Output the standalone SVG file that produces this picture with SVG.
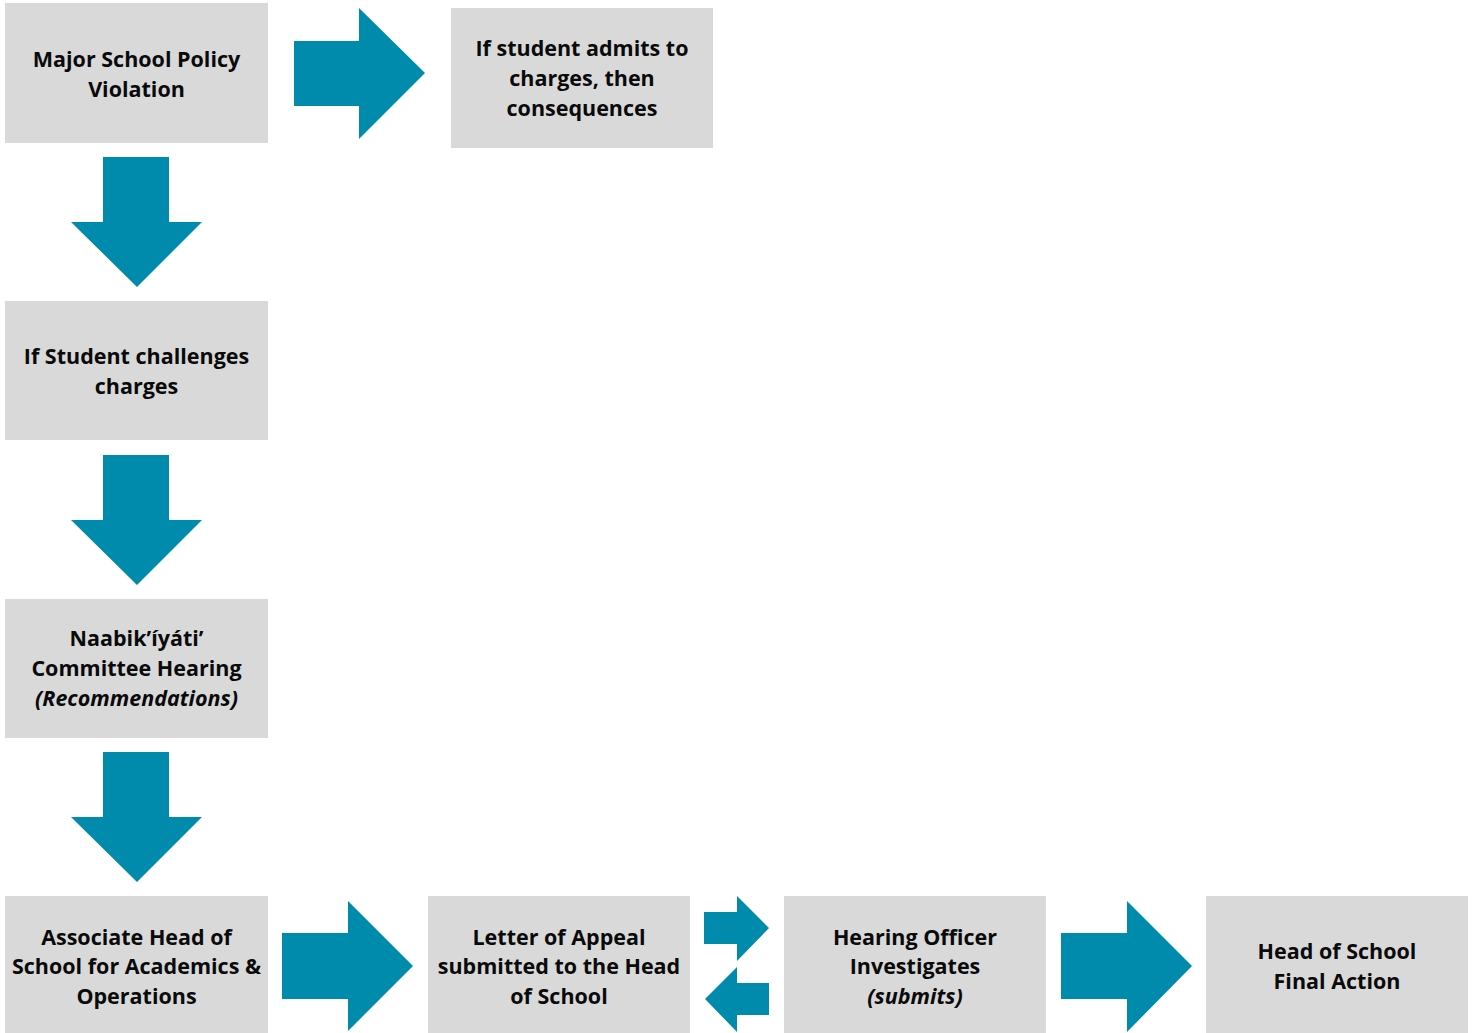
<svg xmlns="http://www.w3.org/2000/svg" width="1474" height="1033" viewBox="0 0 1474 1033">
<style>
.box{fill:#d9d9d9}
.t{font-family:"Open Sans","Noto Sans",sans-serif;font-weight:700;font-size:21.5px;fill:#0a0a0a;text-anchor:middle}
.i{font-style:italic}
.arr{fill:#008bad}
</style>
<rect width="1474" height="1033" fill="#fff"/>
<g id="n1"><rect class="box" x="5" y="3" width="263" height="140"/>
<text class="t" x="136.5" y="66.5">Major School Policy</text>
<text class="t" x="136.5" y="96.5">Violation</text></g>
<g id="n2"><rect class="box" x="451" y="8" width="262" height="140"/>
<text class="t" x="582" y="55.5">If student admits to</text>
<text class="t" x="582" y="85.5">charges, then</text>
<text class="t" x="582" y="115.5">consequences</text></g>
<g id="n3"><rect class="box" x="5" y="301" width="263" height="139"/>
<text class="t" x="136.5" y="363.5">If Student challenges</text>
<text class="t" x="136.5" y="393.5">charges</text></g>
<g id="n4"><rect class="box" x="5" y="599" width="263" height="139"/>
<text class="t" x="136.5" y="645.5">Naabik’íyáti’</text>
<text class="t" x="136.5" y="675.5">Committee Hearing</text>
<text class="t i" x="136.5" y="705.5">(Recommendations)</text></g>
<g id="n5"><rect class="box" x="5" y="896" width="263" height="137"/>
<text class="t" x="136.5" y="944.5">Associate Head of</text>
<text class="t" x="136.5" y="973.5">School for Academics &amp;</text>
<text class="t" x="136.5" y="1003.5">Operations</text></g>
<g id="n6"><rect class="box" x="428" y="896" width="262" height="137"/>
<text class="t" x="559" y="944.5">Letter of Appeal</text>
<text class="t" x="559" y="973.5">submitted to the Head</text>
<text class="t" x="559" y="1003.5">of School</text></g>
<g id="n7"><rect class="box" x="784" y="896" width="262" height="137"/>
<text class="t" x="915" y="944.5">Hearing Officer</text>
<text class="t" x="915" y="973.5">Investigates</text>
<text class="t i" x="915" y="1003.5">(submits)</text></g>
<g id="n8"><rect class="box" x="1206" y="896" width="262" height="137"/>
<text class="t" x="1337" y="958.5">Head of School</text>
<text class="t" x="1337" y="988.5">Final Action</text></g>
<g id="connectors">
<polygon class="arr" points="294,41 359,41 359,8 425,73 359,139 359,106 294,106"/>
<polygon class="arr" points="103,157 169,157 169,222 202,222 137,287 71,222 103,222"/>
<polygon class="arr" points="103,455 169,455 169,520 202,520 137,585 71,520 103,520"/>
<polygon class="arr" points="103,752 169,752 169,817 202,817 137,882 71,817 103,817"/>
<polygon class="arr" points="282,933 348,933 348,901 413,966 348,1031 348,999 282,999"/>
<polygon class="arr" points="704,912 737,912 737,896 769,928 737,961 737,944 704,944"/>
<polygon class="arr" points="769,983 737,983 737,967 705,999 737,1032 737,1015 769,1015"/>
<polygon class="arr" points="1061,933 1127,933 1127,901 1192,966 1127,1032 1127,999 1061,999"/>
</g>
</svg>
